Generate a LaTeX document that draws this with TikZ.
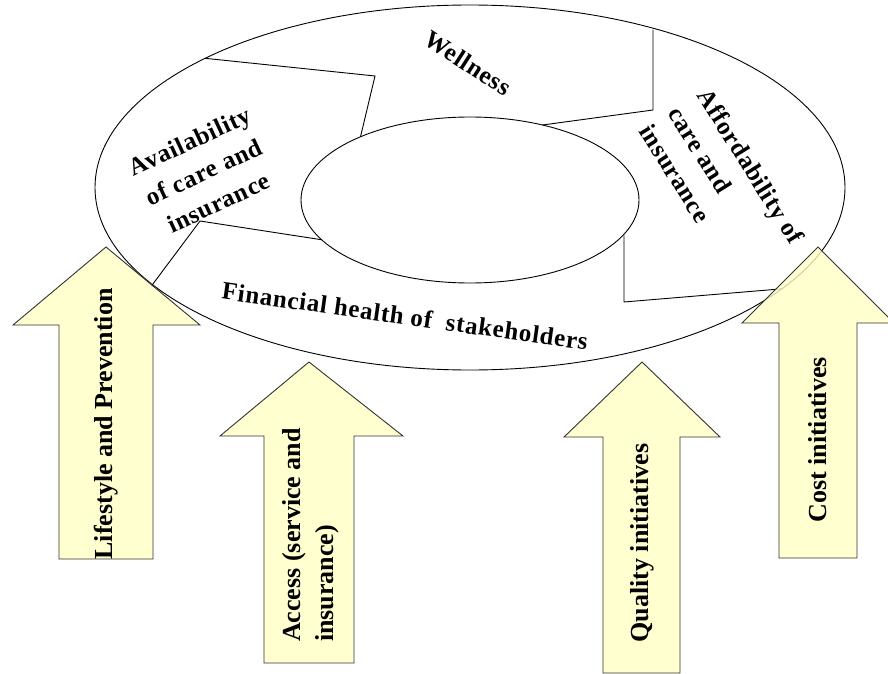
\documentclass[tikz,border=0pt]{standalone}
\usepackage{fontspec}
\setmainfont{Liberation Serif}
\newfontfamily\widefont[LetterSpace=3]{Liberation Serif}
\usetikzlibrary{shapes.geometric}
\definecolor{arrowfill}{HTML}{FFFFC4}

\begin{document}
\begin{tikzpicture}[x=1pt, y=-1pt, line width=0.9pt,
    ring/.style={draw, ellipse, outer sep=0pt, inner sep=0pt},
    blockarrow/.style={draw=black!80, fill=arrowfill, fill opacity=0.8},
    arrowtext/.style={font=\fontsize{26}{33}\selectfont\bfseries, align=left, inner sep=0pt},
    ringtext/.style={font=\widefont\fontsize{25}{34}\selectfont\bfseries, inner sep=0pt}]

  % Fix the page size
  \useasboundingbox (0,0) rectangle (888,674);

  % Draw the two rings
  \node[ring, minimum width=750pt, minimum height=365pt] (outer) at (470,187.5) {};
  \node[ring, minimum width=338pt, minimum height=166pt] (inner) at (470,200) {};

  % Bend points of the dividers
  \coordinate (availA) at (375,76);
  \coordinate (availB) at (200,221);
  \coordinate (affordA) at (653,110);
  \coordinate (affordB) at (624,302);

  % Draw the dividers between the segments
  \draw (outer.154) -- (availA) -- (inner.150.4);
  \draw (inner.195) -- (availB) -- (outer.197.3);
  \draw (affordA |- outer.40.2) -- (affordA) -- (inner.46.5);
  \draw (affordB |- inner.347.9) -- (affordB) -- (outer.342.1);

  % Label the segments
  \node[ringtext, rotate=-33] (wellness) at (468,63) {Wellness};
  \node[ringtext, rotate=25, align=center] (avail) at (204,172) {Availability\\of care and\\insurance};
  \node[ringtext, rotate=-58, align=left] (afford) at (722,184) {Affordability of\\care and\\insurance};
  \node[ringtext, rotate=-8] (finance) at (405,316) {Financial health of\ \ stakeholders};

  % Draw the block arrows
  \draw[blockarrow] (59,559) -- (59,325) -- (13,325) -- (106,247) -- (200,325) -- (153,325) -- (153,559) -- cycle;
  \draw[blockarrow] (264,663) -- (264,436) -- (220,436) -- (309,362) -- (403,436) -- (354,436) -- (354,663) -- cycle;
  \draw[blockarrow] (603,673) -- (603,437) -- (564,437) -- (642,362) -- (720,437) -- (680,437) -- (680,673) -- cycle;
  \draw[blockarrow] (779,558) -- (779,323) -- (742,323) -- (818,247) -- (894,323) -- (857,323) -- (857,558) -- cycle;

  % Label the block arrows
  \node[arrowtext, rotate=90] (lifestyle) at (106,424) {Lifestyle and Prevention};
  \node[arrowtext, rotate=90] (access) at (311,535) {Access (service and\\insurance)};
  \node[arrowtext, rotate=90] (quality) at (642,543) {Quality initiatives};
  \node[arrowtext, rotate=90] (cost) at (818,440) {Cost initiatives};
\end{tikzpicture}
\end{document}
